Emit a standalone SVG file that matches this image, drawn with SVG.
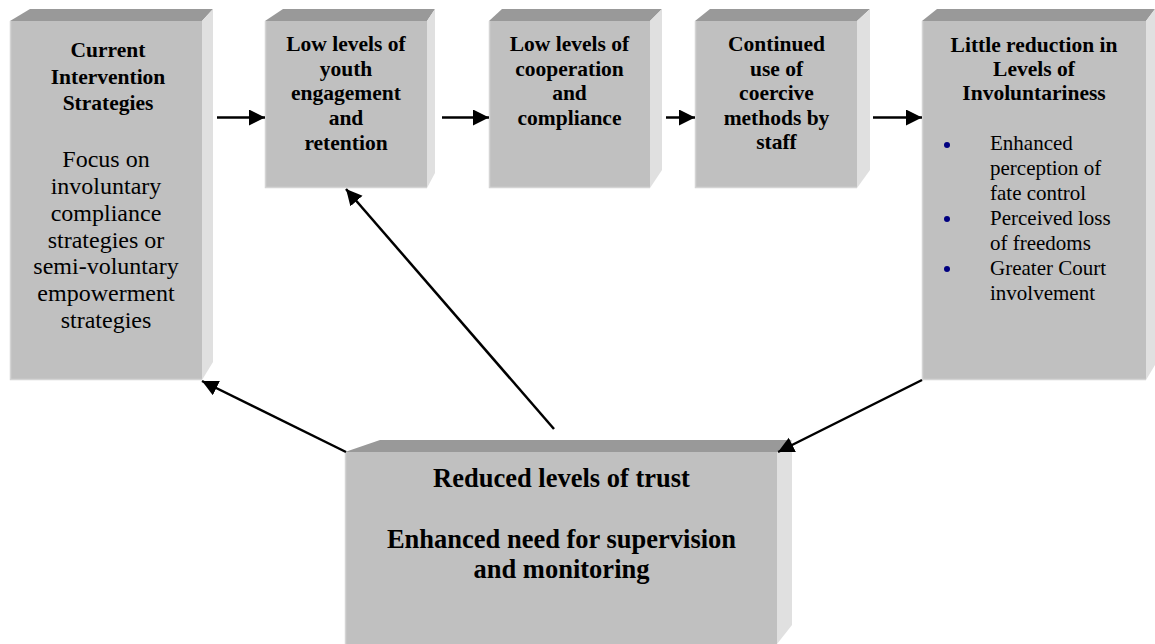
<svg xmlns="http://www.w3.org/2000/svg" width="1155" height="644" viewBox="0 0 1155 644">
<style>
.front{fill:#c0c0c0}
.top{fill:#999999}
.side{fill:#e0e0e0}
.hl{stroke:#d4d4d4;stroke-width:1.5;fill:none}
.t{font-family:"Liberation Serif","Times New Roman",serif;font-weight:bold;font-size:21.5px;fill:#000;text-anchor:middle}
.b{font-family:"Liberation Serif","Times New Roman",serif;font-size:24px;fill:#000;text-anchor:middle}
.bl{font-family:"Liberation Serif","Times New Roman",serif;font-size:21px;fill:#000}
.big{font-family:"Liberation Serif","Times New Roman",serif;font-weight:bold;font-size:26.5px;fill:#000;text-anchor:middle}
.c{stroke:#000;stroke-width:2.5;fill:none;marker-end:url(#ah)}
</style>
<defs>
<marker id="ah" markerUnits="userSpaceOnUse" markerWidth="17" markerHeight="17" refX="16" refY="8" orient="auto">
<path d="M0,0 L16,8 L0,16 z" fill="#000"/>
</marker>
</defs>
<rect width="1155" height="644" fill="#fff"/>

<g id="node-current">
<polygon class="top" points="10,21 30,9 213,9 202,21"/>
<polygon class="side" points="202,21 213,9 213,362 202,380"/>
<rect class="front" x="10" y="21" width="192" height="359"/>
<polyline class="hl" points="10.5,21 10.5,379.5 202,379.5"/>
<text class="t" x="106"><tspan x="108" y="57">Current</tspan><tspan x="108" y="83.5">Intervention</tspan><tspan x="108" y="110">Strategies</tspan></text>
<text class="b"><tspan x="106" y="167">Focus on</tspan><tspan x="106" y="194">involuntary</tspan><tspan x="106" y="220.5">compliance</tspan><tspan x="106" y="247.5">strategies or</tspan><tspan x="106" y="274">semi-voluntary</tspan><tspan x="106" y="301">empowerment</tspan><tspan x="106" y="328">strategies</tspan></text>
</g>

<g id="node-engagement">
<polygon class="top" points="265,21 283,9 435,9 427,21"/>
<polygon class="side" points="427,21 435,9 435,173 427,188"/>
<rect class="front" x="265" y="21" width="162" height="167"/>
<polyline class="hl" points="265.5,21 265.5,187.5 427,187.5"/>
<text class="t"><tspan x="346" y="51">Low levels of</tspan><tspan x="346" y="75.5">youth</tspan><tspan x="346" y="100">engagement</tspan><tspan x="346" y="124.5">and</tspan><tspan x="346" y="149.5">retention</tspan></text>
</g>

<g id="node-cooperation">
<polygon class="top" points="489,21 502,9 662,9 650,21"/>
<polygon class="side" points="650,21 662,9 662,170 650,188"/>
<rect class="front" x="489" y="21" width="161" height="167"/>
<polyline class="hl" points="489.5,21 489.5,187.5 650,187.5"/>
<text class="t"><tspan x="569.5" y="51">Low levels of</tspan><tspan x="569.5" y="75.5">cooperation</tspan><tspan x="569.5" y="100">and</tspan><tspan x="569.5" y="124.5">compliance</tspan></text>
</g>

<g id="node-coercive">
<polygon class="top" points="695,21 710,9 870,9 857,21"/>
<polygon class="side" points="857,21 870,9 870,170 857,188"/>
<rect class="front" x="695" y="21" width="162" height="167"/>
<polyline class="hl" points="695.5,21 695.5,187.5 857,187.5"/>
<text class="t"><tspan x="776.5" y="51">Continued</tspan><tspan x="776.5" y="75.5">use of</tspan><tspan x="776.5" y="100">coercive</tspan><tspan x="776.5" y="124.5">methods by</tspan><tspan x="776.5" y="149">staff</tspan></text>
</g>

<g id="node-involuntariness">
<polygon class="top" points="922,21 937,9 1155,9 1146,21"/>
<polygon class="side" points="1146,21 1155,9 1155,365 1146,380"/>
<rect class="front" x="922" y="21" width="224" height="359"/>
<polyline class="hl" points="922.5,21 922.5,379.5 1146,379.5"/>
<text class="t"><tspan x="1034" y="51.5">Little reduction in</tspan><tspan x="1034" y="75.5">Levels of</tspan><tspan x="1034" y="99.5">Involuntariness</tspan></text>
<g fill="#000080"><circle cx="947" cy="145" r="3"/><circle cx="947" cy="219" r="3"/><circle cx="947" cy="269" r="3"/></g>
<text class="bl"><tspan x="990" y="150">Enhanced</tspan><tspan x="990" y="175">perception of</tspan><tspan x="990" y="199.5">fate control</tspan><tspan x="990" y="224.5">Perceived loss</tspan><tspan x="990" y="250">of freedoms</tspan><tspan x="990" y="274.5">Greater Court</tspan><tspan x="990" y="299.5">involvement</tspan></text>
</g>

<g id="node-trust">
<polygon class="top" points="345,452 380,440 792,440 777,452"/>
<polygon class="side" points="777,452 792,440 792,625 777,644"/>
<rect class="front" x="345" y="452" width="432" height="192"/>
<line class="hl" x1="345.5" y1="452" x2="345.5" y2="644"/>
<text class="big"><tspan x="561.5" y="487">Reduced levels of trust</tspan><tspan x="561.5" y="548">Enhanced need for supervision</tspan><tspan x="561.5" y="577.5">and monitoring</tspan></text>
</g>

<g id="connectors">
<line class="c" x1="217" y1="117.5" x2="265" y2="117.5"/>
<line class="c" x1="442" y1="117.5" x2="489" y2="117.5"/>
<line class="c" x1="666" y1="117.5" x2="695" y2="117.5"/>
<line class="c" x1="873" y1="117.5" x2="922" y2="117.5"/>
<line class="c" x1="554" y1="429" x2="346" y2="189"/>
<line class="c" x1="346" y1="452" x2="202" y2="381"/>
<line class="c" x1="922" y1="380" x2="778" y2="452"/>
</g>
</svg>
